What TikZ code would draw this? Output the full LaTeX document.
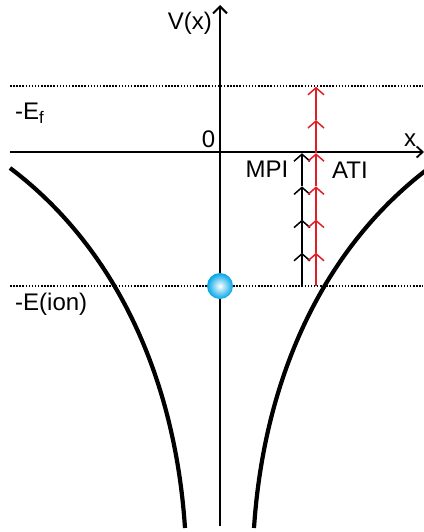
\documentclass[tikz,border=0pt]{standalone}
\usepackage{fontspec}
\setmainfont{Liberation Sans}
\usetikzlibrary{arrows.meta}
\definecolor{photonred}{RGB}{225,30,37}
\definecolor{atomblue}{RGB}{0,165,230}
\tikzset{
  lbl/.style={font=\fontsize{24}{28}\selectfont, inner sep=0pt},
  lvl/.style={line width=1.7pt, dash pattern=on 1.5pt off 1.6pt},
  curve/.style={line width=4.2pt},
  photon/.style={line width=1.5pt, -{Straight Barb[length=7pt,width=16pt,line width=1.5pt]}},
}
\begin{document}
\begin{tikzpicture}[x=1pt,y=-1pt]
\useasboundingbox (0,0) rectangle (423,532);
% axes
\coordinate (vbot) at (220,526);
\coordinate (vtop) at (220,5);
\coordinate (xl) at (10,152);
\coordinate (xr) at (424,152);
\draw[line width=2pt, -{Straight Barb[length=7pt,width=14pt,line width=2pt]}] (vbot) -- (vtop);
\draw[line width=1.8pt, -{Straight Barb[length=6pt,width=11pt,line width=1.8pt]}] (xl) -- (xr);
% energy levels
\coordinate (fl) at (10,86);
\coordinate (fr) at (423,86);
\coordinate (il) at (10,286);
\coordinate (ir) at (423,286);
\draw[lvl] (fl) -- (fr);
\draw[lvl] (il) -- (ir);
% potential
\draw[curve] (10,168) .. controls (116,248) and (175,378) .. (185,528);
\draw[curve] (429,168) .. controls (323,248) and (264,378) .. (254,528);
% photons
\foreach \i in {0,...,4}
  \coordinate (m\i) at (302,286-33.2*\i);
\foreach \i in {0,...,6}
  \coordinate (a\i) at (316,286-33.2*\i);
\foreach \i [evaluate=\i as \j using int(\i+1)] in {0,...,3}
  \draw[photon] (m\i) -- (m\j);
\foreach \i [evaluate=\i as \j using int(\i+1)] in {0,...,5}
  \draw[photon, photonred] (a\i) -- (a\j);
% atom
\node[circle, inner color=white, outer color=atomblue, minimum size=26pt, inner sep=0pt] (atom) at (220,286) {};
% labels
\node[lbl, anchor=base east] (vlab) at (212,30) {V(x)};
\node[lbl, anchor=base] (zero) at (208.5,147) {0};
\node[lbl, anchor=base] (xlab) at (410,146) {x};
\node[lbl, anchor=base] (mpi) at (267,177) {MPI};
\node[lbl, anchor=base] (ati) at (350,178) {ATI};
\node[lbl, anchor=base west] (ef) at (15,120) {-E\textsubscript{f}};
\node[lbl, anchor=base west] (eion) at (15,310) {-E(ion)};
\end{tikzpicture}
\end{document}
